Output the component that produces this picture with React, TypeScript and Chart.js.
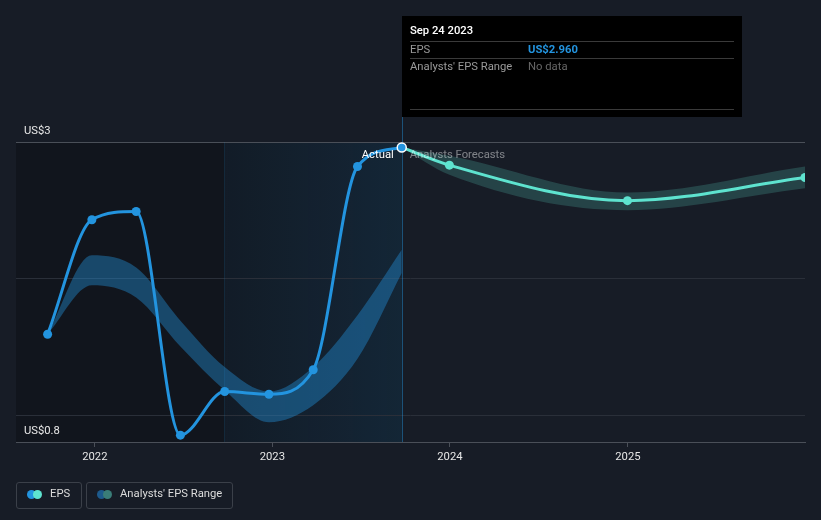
import React, { useEffect, useRef } from "react";
import { Chart, registerables } from "chart.js";
Chart.register(...registerables);

const d = (s: string) => Date.UTC(+s.slice(0, 4), +s.slice(5, 7) - 1, +s.slice(8, 10));

const epsDates = ["2021-09-26", "2021-12-26", "2022-03-27", "2022-06-26", "2022-09-25", "2022-12-25", "2023-03-26", "2023-06-25", "2023-09-24"];
const epsValues = [1.59, 2.43, 2.49, 0.85, 1.17, 1.15, 1.33, 2.82, 2.96];
const pastRangeLow = [1.59, 1.95, 1.86, 1.5, 1.18, 0.945, 1.07, 1.41, 2.04];
const pastRangeHigh = [1.59, 2.17, 2.08, 1.69, 1.35, 1.17, 1.35, 1.73, 2.21];

const forecastDates = ["2023-09-24", "2023-12-31", "2024-12-31", "2025-12-31"];
const forecastValues = [2.96, 2.83, 2.57, 2.74];
const forecastLow = [2.96, 2.76, 2.5, 2.66];
const forecastHigh = [2.96, 2.9, 2.63, 2.82];

const yearTicks = ["2022-01-01", "2023-01-01", "2024-01-01", "2025-01-01"];
const yGridValues = [3, 2, 1];
const yLabelValues = [3, 0.8];
const yLabelTexts = ["US$3", "US$0.8"];
const axisStart = "2021-07-23";
const axisEnd = "2025-12-31";
const highlightStart = "2022-09-24";
const highlightEnd = "2023-09-24";

const tooltipTitle = "Sep 24 2023";
const tooltipRows = [
  ["EPS", "US$2.960"],
  ["Analysts' EPS Range", "No data"],
];

const FONT = "Roboto, 'Noto Sans', Arial, sans-serif";
const FS = 11.25;
const BLUE = "#2394df";
const TEAL = "#5ee3cf";

const pts = (dates: string[], vals: number[]) => dates.map((s, i) => ({ x: d(s), y: vals[i] }));

export default function App() {
  const ref = useRef<HTMLCanvasElement | null>(null);

  useEffect(() => {
    const canvas = ref.current;
    if (!canvas) return;

    const bgPlugin = {
      id: "bgPlugin",
      beforeDatasetsDraw(chart: any) {
        const { ctx, chartArea: ca, scales } = chart;
        const x = scales.x, y = scales.y;
        const xs = x.getPixelForValue(d(highlightStart));
        const xe = x.getPixelForValue(d(highlightEnd));
        ctx.save();
        ctx.fillStyle = "rgba(0,0,0,0.22)";
        ctx.fillRect(ca.left, ca.top, xe - ca.left, ca.bottom - ca.top);
        const g = ctx.createLinearGradient(xs, 0, xe, 0);
        g.addColorStop(0, "rgba(35,148,223,0.05)");
        g.addColorStop(1, "rgba(35,148,223,0.13)");
        ctx.fillStyle = g;
        ctx.fillRect(xs, ca.top, xe - xs, ca.bottom - ca.top);
        yGridValues.forEach((v, i) => {
          const py = Math.round(y.getPixelForValue(v)) + 0.5;
          ctx.strokeStyle = i === 0 ? "#4a4f58" : "#2a2f39";
          ctx.lineWidth = 1;
          ctx.beginPath();
          ctx.moveTo(ca.left, py);
          ctx.lineTo(ca.right, py);
          ctx.stroke();
        });
        ctx.strokeStyle = "rgba(35,148,223,0.12)";
        ctx.beginPath();
        ctx.moveTo(Math.round(xs) + 0.5, ca.top);
        ctx.lineTo(Math.round(xs) + 0.5, ca.bottom);
        ctx.stroke();
        ctx.strokeStyle = "rgba(35,148,223,0.45)";
        ctx.beginPath();
        ctx.moveTo(Math.round(xe) + 0.5, 117);
        ctx.lineTo(Math.round(xe) + 0.5, ca.bottom);
        ctx.stroke();
        ctx.restore();
      },
      afterDatasetsDraw(chart: any) {
        const { ctx, chartArea: ca, scales } = chart;
        const x = scales.x, y = scales.y;
        ctx.save();
        ctx.font = `${FS}px ${FONT}`;
        ctx.textBaseline = "middle";
        ctx.fillStyle = "#e8e8e8";
        yLabelValues.forEach((v, i) => {
          ctx.fillText(yLabelTexts[i], ca.left + 8, y.getPixelForValue(v) - 11);
        });
        const xe = x.getPixelForValue(d(highlightEnd));
        const ly = y.getPixelForValue(3) + 13;
        ctx.textAlign = "right";
        ctx.fillStyle = "#ffffff";
        ctx.fillText("Actual", xe - 8, ly);
        ctx.textAlign = "left";
        ctx.fillStyle = "rgba(255,255,255,0.45)";
        ctx.fillText("Analysts Forecasts", xe + 8, ly);
        ctx.restore();
      },
      afterDraw(chart: any) {
        const { ctx, scales } = chart;
        const xe = scales.x.getPixelForValue(d(highlightEnd));
        const left = Math.round(xe), top = 16, w = 340, h = 101;
        ctx.save();
        ctx.fillStyle = "#000000";
        ctx.fillRect(left, top, w, h);
        ctx.textBaseline = "middle";
        ctx.textAlign = "left";
        ctx.font = `500 ${FS}px ${FONT}`;
        ctx.fillStyle = "#ffffff";
        ctx.fillText(tooltipTitle, left + 8, 31.5);
        ctx.strokeStyle = "#3a3a3a";
        ctx.lineWidth = 1;
        [41.5, 58.5, 109.5].forEach((ly) => {
          ctx.beginPath();
          ctx.moveTo(left + 8, ly);
          ctx.lineTo(left + w - 8, ly);
          ctx.stroke();
        });
        const rowY = [50, 67];
        tooltipRows.forEach((r, i) => {
          ctx.font = `${FS}px ${FONT}`;
          ctx.fillStyle = "#9a9a9a";
          ctx.fillText(r[0], left + 8, rowY[i]);
          if (i === 0) {
            ctx.font = `bold ${FS}px ${FONT}`;
            ctx.fillStyle = BLUE;
          } else {
            ctx.font = `${FS}px ${FONT}`;
            ctx.fillStyle = "#666666";
          }
          ctx.fillText(r[1], left + 126, rowY[i]);
        });
        ctx.restore();
      },
    };

    const n = epsDates.length;
    const chart = new Chart(canvas, {
      type: "line",
      data: {
        datasets: [
          {
            label: "pastHigh",
            data: pts(epsDates, pastRangeHigh),
            borderWidth: 0,
            pointRadius: 0,
            fill: false,
            cubicInterpolationMode: "monotone",
            order: 5,
          },
          {
            label: "pastLow",
            data: pts(epsDates, pastRangeLow),
            borderWidth: 0,
            pointRadius: 0,
            fill: "-1",
            backgroundColor: "rgba(35,148,223,0.4)",
            cubicInterpolationMode: "monotone",
            order: 4,
          },
          {
            label: "fcHigh",
            data: pts(forecastDates, forecastHigh),
            borderWidth: 0,
            pointRadius: 0,
            fill: false,
            cubicInterpolationMode: "monotone",
            order: 3,
          },
          {
            label: "fcLow",
            data: pts(forecastDates, forecastLow),
            borderWidth: 0,
            pointRadius: 0,
            fill: "-1",
            backgroundColor: "rgba(94,227,207,0.2)",
            cubicInterpolationMode: "monotone",
            order: 2,
          },
          {
            label: "Forecast",
            data: pts(forecastDates, forecastValues),
            borderColor: TEAL,
            backgroundColor: TEAL,
            borderWidth: 3,
            pointRadius: forecastDates.map((_, i) => (i === 0 ? 0 : 4.5)),
            pointBorderWidth: 0,
            pointBackgroundColor: TEAL,
            fill: false,
            cubicInterpolationMode: "monotone",
            order: 1,
          },
          {
            label: "EPS",
            data: pts(epsDates, epsValues),
            borderColor: BLUE,
            backgroundColor: BLUE,
            borderWidth: 3,
            pointRadius: 4.5,
            pointBorderWidth: epsDates.map((_, i) => (i === n - 1 ? 1.5 : 0)),
            pointBorderColor: epsDates.map((_, i) => (i === n - 1 ? "#ffffff" : BLUE)),
            pointBackgroundColor: BLUE,
            fill: false,
            cubicInterpolationMode: "monotone",
            order: 0,
          },
        ],
      },
      options: {
        responsive: false,
        animation: false,
        events: [],
        layout: { padding: { left: 16, right: 16, top: 142, bottom: 48 } },
        plugins: {
          legend: { display: false },
          tooltip: { enabled: false },
        },
        scales: {
          x: {
            type: "linear",
            min: d(axisStart),
            max: d(axisEnd),
            afterBuildTicks(scale: any) {
              scale.ticks = yearTicks.map((s) => ({ value: d(s) }));
            },
            afterFit(scale: any) {
              scale.height = 30;
            },
            grid: {
              display: true,
              drawOnChartArea: false,
              drawTicks: true,
              tickLength: 5,
              color: "#4a4f58",
            },
            border: { display: true, color: "#4a4f58" },
            ticks: {
              autoSkip: false,
              maxRotation: 0,
              padding: 3,
              color: "#e6e6e6",
              font: { family: FONT, size: FS },
              callback: (v: any) => String(new Date(v).getUTCFullYear()),
            },
          },
          y: {
            type: "linear",
            min: 0.8,
            max: 3,
            display: false,
          },
        },
      },
      plugins: [bgPlugin],
    } as any);

    return () => chart.destroy();
  }, []);

  const boxStyle = (left: number, width: number): React.CSSProperties => ({
    position: "absolute",
    left,
    top: 482,
    width,
    height: 27,
    boxSizing: "border-box",
    border: "1px solid #3b4049",
    borderRadius: 3,
  });
  const dot = (cx: number, color: string): React.CSSProperties => ({
    position: "absolute",
    left: cx - 4.5,
    top: 489.5,
    width: 9,
    height: 9,
    borderRadius: "50%",
    background: color,
  });
  const text = (left: number): React.CSSProperties => ({
    position: "absolute",
    left,
    top: 486,
    height: 16,
    lineHeight: "16px",
    fontFamily: FONT,
    fontSize: FS,
    color: "#dcdcdc",
    whiteSpace: "nowrap",
  });

  return (
    <div style={{ position: "absolute", left: 0, top: 0, width: 821, height: 520, background: "#171c26", overflow: "hidden" }}>
      <canvas ref={ref} width={821} height={520} style={{ position: "absolute", left: 0, top: 0, width: 821, height: 520 }} />
      <div style={boxStyle(16, 66)} />
      <div style={dot(31.5, BLUE)} />
      <div style={dot(37.5, TEAL)} />
      <div style={text(50)}>EPS</div>
      <div style={boxStyle(86, 147)} />
      <div style={dot(101.5, "#1d5a8c")} />
      <div style={dot(107.5, "#3a7d78")} />
      <div style={text(120)}>Analysts' EPS Range</div>
    </div>
  );
}
